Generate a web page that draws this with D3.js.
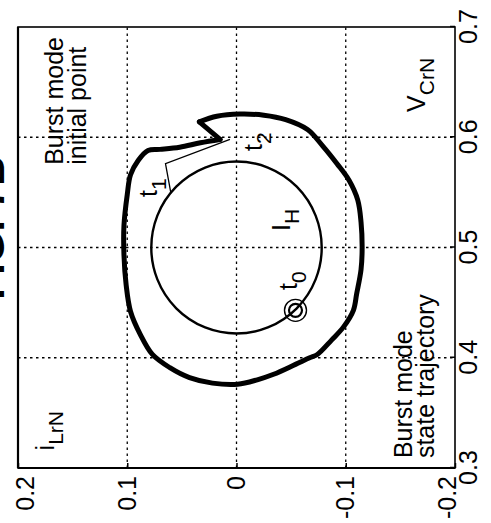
<!DOCTYPE html>
<html>
<head>
<meta charset="utf-8">
<script src="https://cdn.jsdelivr.net/npm/d3@7"></script>
<style>
body { margin: 0; background: #fff; }
text { font-family: Arial, "Liberation Sans", sans-serif; fill: #000; }
</style>
</head>
<body>
<div id="chart"></div>
<script>
// axis ticks
var vTicks = [0.3, 0.4, 0.5, 0.6, 0.7]
var iTicks = [0.2, 0.1, 0, -0.1, -0.2]

// thick burst mode trajectory (V_CrN, i_LrN)
var outerV = [0.598, 0.595, 0.591, 0.589, 0.588, 0.579, 0.566, 0.548, 0.520, 0.493,
              0.466, 0.442, 0.421, 0.403, 0.391, 0.382, 0.377, 0.376, 0.380, 0.385,
              0.394, 0.400, 0.403, 0.416, 0.428, 0.443, 0.458, 0.480, 0.500, 0.523,
              0.543, 0.561, 0.576, 0.592, 0.607, 0.616, 0.620, 0.621, 0.619, 0.614]
var outerI = [0.015, 0.033, 0.052, 0.070, 0.081, 0.090, 0.097, 0.100, 0.103, 0.103,
              0.101, 0.097, 0.088, 0.077, 0.061, 0.043, 0.022, -0.001, -0.019, -0.034,
              -0.054, -0.067, -0.074, -0.087, -0.098, -0.107, -0.110, -0.114, -0.115, -0.114,
              -0.111, -0.103, -0.092, -0.079, -0.065, -0.045, -0.025, -0.003, 0.018, 0.034]

// I_H circle
var hCenter = [0.5, 0]
var hRadius = 0.078

// thin jump from t1 towards t2
var jumpV = [0.549, 0.576, 0.598]
var jumpI = [0.060, 0.065, 0.006]

// t0 marker
var t0Point = [0.443, -0.054]

// labels: text, subscript, V, i
var labels = [
  {main: "i", sub: "LrN", v: 0.316, i: 0.167},
  {main: "V", sub: "CrN", v: 0.623, i: -0.1725},
  {main: "t", sub: "0", v: 0.4615, i: -0.0554},
  {main: "t", sub: "1", v: 0.5458, i: 0.0728},
  {main: "t", sub: "2", v: 0.5875, i: -0.0233},
  {main: "I", sub: "H", v: 0.515, i: -0.0494}
]
var notes = [
  {lines: ["Burst mode", "initial point"], v: 0.575, i: [0.159, 0.138]},
  {lines: ["Burst mode", "state trajectory"], v: 0.309, i: [-0.1606, -0.1808]}
]

var W = 491, H = 523
var plotW = 441, plotH = 437

var svg = d3.select("#chart").append("svg")
  .attr("width", W)
  .attr("height", H)

// title, mostly off the page
svg.append("text")
  .attr("transform", "translate(4,228) rotate(-90)")
  .attr("text-anchor", "middle")
  .style("font-size", "41px")
  .style("font-weight", "bold")
  .text("FIG. 7B")

// whole plot is drawn turned a quarter turn
var g = svg.append("g")
  .attr("transform", "translate(18,468) rotate(-90)")

var x = d3.scaleLinear().domain([0.3, 0.7]).range([0, plotW])
var y = d3.scaleLinear().domain([-0.2, 0.2]).range([plotH, 0])

// grid
g.selectAll(".gv")
  .data(vTicks.slice(1, -1))
  .enter().append("line")
  .attr("x1", d => x(d)).attr("x2", d => x(d))
  .attr("y1", 0).attr("y2", plotH)
  .attr("stroke", "#000").attr("stroke-width", 1.3)
  .attr("stroke-dasharray", "2.5,3.5")
g.selectAll(".gi")
  .data(iTicks.slice(1, -1))
  .enter().append("line")
  .attr("x1", 0).attr("x2", plotW)
  .attr("y1", d => y(d)).attr("y2", d => y(d))
  .attr("stroke", "#000").attr("stroke-width", 1.3)
  .attr("stroke-dasharray", "2.5,3.5")

// axes
var xAxis = g.append("g")
  .attr("transform", "translate(0," + plotH + ")")
  .call(d3.axisBottom(x).tickValues(vTicks).tickFormat(d => d.toFixed(1))
    .tickSizeInner(-5).tickSizeOuter(0).tickPadding(4))
var yAxis = g.append("g")
  .call(d3.axisLeft(y).tickValues(iTicks).tickFormat(d => d === 0 ? "0" : d.toFixed(1))
    .tickSizeInner(-5).tickSizeOuter(0).tickPadding(8))
g.selectAll(".domain").remove()
g.selectAll(".tick line").attr("stroke", "#000").attr("stroke-width", 1.5)
g.selectAll(".tick text").style("font-size", "25px").attr("fill", "#000")
  .style("font-family", "Arial, 'Liberation Sans', sans-serif")
yAxis.selectAll(".tick text").attr("transform", function(d) {
  if (d === 0.2) return "translate(0,7)"
  if (d === -0.2) return "translate(0,-8)"
  return null
})

// box
g.append("rect")
  .attr("x", 0).attr("y", 0).attr("width", plotW).attr("height", plotH)
  .attr("fill", "none").attr("stroke", "#000").attr("stroke-width", 1.6)
g.append("line").attr("x1", 0).attr("x2", 0).attr("y1", 0).attr("y2", plotH)
  .attr("stroke", "#000").attr("stroke-width", 2.2)
g.append("line").attr("x1", 0).attr("x2", plotW).attr("y1", 0).attr("y2", 0)
  .attr("stroke", "#000").attr("stroke-width", 2.2)

// I_H circle
g.append("ellipse")
  .attr("cx", x(hCenter[0])).attr("cy", y(hCenter[1]))
  .attr("rx", x(hCenter[0] + hRadius) - x(hCenter[0]))
  .attr("ry", y(hCenter[1] - hRadius) - y(hCenter[1]))
  .attr("fill", "none").attr("stroke", "#000").attr("stroke-width", 2.4)

// jump line
var jump = jumpV.map((v, k) => [v, jumpI[k]])
g.append("path")
  .datum(jump)
  .attr("fill", "none").attr("stroke", "#000").attr("stroke-width", 1.3)
  .attr("d", d3.line().x(d => x(d[0])).y(d => y(d[1])))

// burst trajectory
var outer = outerV.map((v, k) => [v, outerI[k]])
g.append("path")
  .datum(outer)
  .attr("fill", "none").attr("stroke", "#000").attr("stroke-width", 5)
  .attr("stroke-linejoin", "round").attr("stroke-linecap", "round")
  .attr("d", d3.line().x(d => x(d[0])).y(d => y(d[1])).curve(d3.curveCatmullRom))
g.append("path")
  .datum([outer[outer.length - 1], outer[0]])
  .attr("fill", "none").attr("stroke", "#000").attr("stroke-width", 5)
  .attr("stroke-linecap", "round")
  .attr("d", d3.line().x(d => x(d[0])).y(d => y(d[1])))

// t0 marker
g.append("circle")
  .attr("cx", x(t0Point[0])).attr("cy", y(t0Point[1])).attr("r", 11)
  .attr("fill", "none").attr("stroke", "#000").attr("stroke-width", 1.4)
g.append("circle")
  .attr("cx", x(t0Point[0])).attr("cy", y(t0Point[1])).attr("r", 6.5)
  .attr("fill", "none").attr("stroke", "#000").attr("stroke-width", 2.2)

// labels with subscripts
labels.forEach(function(l) {
  var t = g.append("text")
    .attr("x", x(l.v)).attr("y", y(l.i))
    .style("font-size", "25px")
  t.append("tspan").text(l.main)
  t.append("tspan").attr("dy", 9).style("font-size", "21px").text(l.sub)
})

notes.forEach(function(n) {
  n.lines.forEach(function(s, k) {
    g.append("text")
      .attr("x", x(n.v)).attr("y", y(n.i[k]))
      .style("font-size", "25px")
      .text(s)
  })
})
</script>
</body>
</html>
